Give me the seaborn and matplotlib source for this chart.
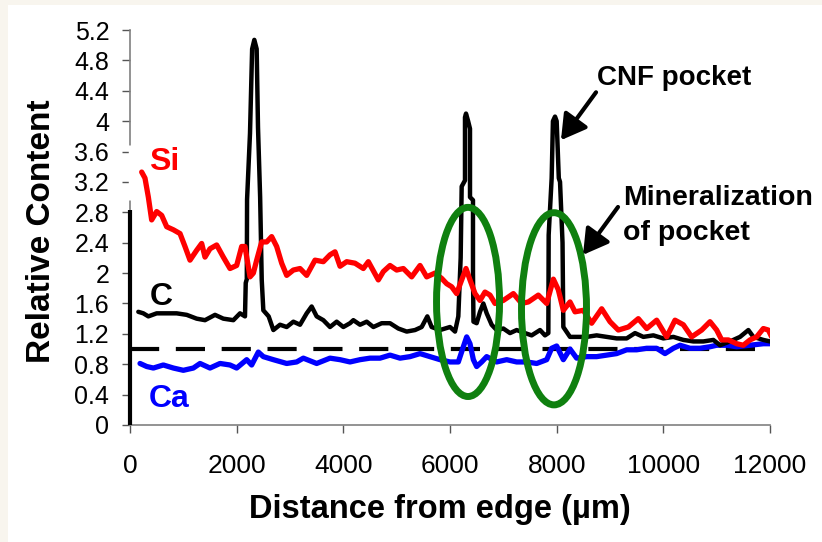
import numpy as np
import pandas as pd
import matplotlib
matplotlib.use("Agg")
import matplotlib.pyplot as plt
from matplotlib.patches import Ellipse, Rectangle
import seaborn as sns

# ---------------- data ----------------
si_x = [219, 281, 344, 406, 500, 594, 688, 813, 938, 1031, 1125, 1250, 1344, 1406, 1500,
        1625, 1750, 1875, 2000, 2094, 2156, 2250, 2313, 2375, 2469, 2563, 2656, 2750, 2844,
        2938, 3063, 3188, 3313, 3469, 3625, 3750, 3844, 3938, 4063, 4219, 4375, 4469, 4656,
        4750, 4875, 5000, 5125, 5281, 5438, 5563, 5719, 5844, 5938, 6031, 6125, 6219, 6300,
        6375, 6469, 6563, 6656, 6750, 6844, 7000, 7188, 7344, 7469, 7656, 7813, 7938, 8031,
        8125, 8250, 8344, 8500, 8656, 8844, 9000, 9156, 9344, 9531, 9688, 9875, 10063, 10219,
        10375, 10531, 10719, 10875, 11000, 11094, 11219, 11375, 11500, 11625, 11750, 11875,
        11969, 12031]
si_y = [3.33, 3.25, 3.00, 2.70, 2.81, 2.76, 2.61, 2.57, 2.52, 2.35, 2.17, 2.30, 2.39, 2.21, 2.32,
        2.37, 2.21, 2.06, 2.10, 2.35, 2.35, 1.95, 2.00, 2.17, 2.41, 2.41, 2.48, 2.35, 2.13,
        1.97, 2.04, 2.06, 1.97, 2.17, 2.15, 2.24, 2.28, 2.09, 2.15, 2.13, 2.06, 2.15, 1.91,
        2.02, 2.10, 2.04, 2.06, 1.95, 2.10, 1.95, 2.00, 1.93, 1.86, 1.82, 1.73, 1.91, 2.06,
        1.91, 1.73, 1.64, 1.75, 1.71, 1.60, 1.64, 1.73, 1.60, 1.62, 1.71, 1.60, 1.92, 1.78,
        1.51, 1.62, 1.49, 1.51, 1.34, 1.53, 1.36, 1.25, 1.29, 1.40, 1.27, 1.38, 1.16, 1.38,
        1.32, 1.16, 1.25, 1.36, 1.25, 1.12, 1.12, 1.07, 1.05, 1.12, 1.16, 1.27,
        1.25, 1.16]

c_x = [156, 250, 344, 500, 688, 875, 1063, 1250, 1406, 1594, 1750, 1938, 2063, 2156, 2170,
       2190, 2195, 2250, 2290, 2331, 2375, 2400, 2440, 2470, 2500, 2600, 2688, 2813, 2938,
       3063, 3188, 3313, 3406, 3500, 3625, 3750, 3875, 4000, 4125, 4188, 4313, 4438, 4563,
       4719, 4875, 5031, 5188, 5344, 5469, 5575, 5656, 5813, 6000, 6094, 6156, 6200, 6219,
       6281, 6281, 6300, 6340, 6375, 6375, 6431, 6431, 6440, 6500, 6563, 6625, 6688, 6781,
       6875, 7000, 7125, 7250, 7406, 7531, 7688, 7781, 7844, 7850, 7906, 7930, 7969, 8000,
       8040, 8063, 8110, 8125, 8250, 8375, 8563, 8750, 8938, 9125, 9313, 9469, 9625, 9813,
       10000, 10188, 10375, 10563, 10750, 10938, 11063, 11250, 11438, 11594, 11688, 11875,
       12000]
c_y = [1.49, 1.47, 1.43, 1.47, 1.47, 1.47, 1.45, 1.40, 1.38, 1.45, 1.40, 1.38, 1.47, 1.43, 1.87,
       1.92, 2.97, 3.84, 4.95, 5.07, 4.95, 3.92, 3.00, 1.91, 1.51, 1.43, 1.25, 1.32, 1.29,
       1.36, 1.32, 1.47, 1.56, 1.43, 1.38, 1.29, 1.36, 1.29, 1.34, 1.38, 1.32, 1.36, 1.29,
       1.34, 1.34, 1.27, 1.23, 1.25, 1.29, 1.43, 1.29, 1.25, 1.29, 1.23, 1.43, 2.20, 3.14,
       3.22, 4.05, 4.10, 4.00, 3.90, 3.00, 2.96, 2.00, 1.36, 1.34, 1.49, 1.60, 1.47, 1.32,
       1.25, 1.27, 1.21, 1.25, 1.21, 1.18, 1.25, 1.18, 1.21, 2.50, 3.25, 4.00, 4.06, 4.00,
       3.25, 3.20, 2.40, 1.29, 1.16, 1.16, 1.16, 1.18, 1.16, 1.14, 1.14, 1.21, 1.16, 1.18,
       1.14, 1.16, 1.12, 1.10, 1.10, 1.12, 1.05, 1.10, 1.16, 1.25, 1.16, 1.12,
       1.10]

ca_x = [188, 313, 438, 625, 813, 1000, 1188, 1313, 1500, 1688, 1875, 2000, 2188, 2281, 2406,
        2500, 2688, 2938, 3125, 3250, 3500, 3750, 3938, 4125, 4313, 4500, 4688, 4875, 5063,
        5250, 5438, 5625, 5813, 6000, 6156, 6250, 6313, 6375, 6438, 6500, 6594, 6688, 6875,
        7063, 7250, 7438, 7625, 7813, 7906, 8000, 8125, 8250, 8375, 8563, 8750, 8938, 9125,
        9313, 9500, 9688, 9875, 10031, 10188, 10313, 10500, 10688, 10875, 11000, 11188, 11375,
        11625, 11875, 12000]
ca_y = [0.81, 0.77, 0.75, 0.79, 0.75, 0.72, 0.75, 0.81, 0.75, 0.81, 0.79, 0.75, 0.86, 0.79, 0.96,
        0.90, 0.86, 0.81, 0.83, 0.88, 0.81, 0.88, 0.86, 0.83, 0.86, 0.88, 0.88, 0.92, 0.88,
        0.90, 0.94, 0.90, 0.86, 0.83, 0.83, 1.03, 1.16, 1.07, 0.86, 0.77, 0.83, 0.90, 0.83,
        0.86, 0.83, 0.83, 0.81, 0.86, 1.01, 1.04, 0.86, 1.00, 0.88, 0.90, 0.90, 0.92, 0.94,
        0.99, 0.99, 1.01, 1.01, 0.94, 1.01, 1.05, 1.01, 1.01, 1.03, 1.05, 1.05, 1.03,
        1.05, 1.07, 1.07]

reference_level = 1.0
left_bar_y = [0.0, 2.83]          # thick black segment on the y axis
spine_gap_y = [2.96, 3.68]        # white break in the y axis

x_ticks = [0, 2000, 4000, 6000, 8000, 10000, 12000]
x_tick_labels = ["0", "2000", "4000", "6000", "8000", "10000", "12000"]
y_ticks = [0, 0.4, 0.8, 1.2, 1.6, 2.0, 2.4, 2.8, 3.2, 3.6, 4.0, 4.4, 4.8, 5.2]
y_tick_labels = ["0", "0.4", "0.8", "1.2", "1.6", "2", "2.4", "2.8", "3.2", "3.6", "4", "4.4", "4.8", "5.2"]

# ellipses (center x, center y, width, height)
ellipse_cx = [6338, 7950]
ellipse_cy = [1.62, 1.53]
ellipse_w = [1181, 1219]
ellipse_h = [2.49, 2.53]

# annotation arrows (tail -> tip)
cnf_tail, cnf_tip = (8738, 4.38), (8081, 3.75)
min_tail, min_tip = (9150, 2.87), (8494, 2.24)

# ---------------- style ----------------
sns.set_style("white")
plt.rcParams["font.family"] = ["Liberation Sans", "DejaVu Sans"]
plt.rcParams["text.color"] = "black"
plt.rcParams["axes.labelcolor"] = "black"
plt.rcParams["xtick.color"] = "black"
plt.rcParams["ytick.color"] = "black"

fig = plt.figure(figsize=(8.22, 5.42), dpi=100, facecolor="#f8f5ee")
fig.patches.append(Rectangle((8 / 822, 0), 1, 537 / 542, transform=fig.transFigure,
                             facecolor="white", edgecolor="none", zorder=-10))
ax = fig.add_axes([130 / 822, 117 / 542, 640 / 822, 395 / 542])
ax.set_facecolor("white")

# reference dashed line
ax.axhline(reference_level, color="black", lw=3, ls=(0, (7, 4)), zorder=1)

df_ca = pd.DataFrame({"x": ca_x, "y": ca_y})
df_c = pd.DataFrame({"x": c_x, "y": c_y})
df_si = pd.DataFrame({"x": si_x, "y": si_y})

sns.lineplot(data=df_ca, x="x", y="y", ax=ax, color="#0000ff", lw=3.8,
             estimator=None, sort=False, zorder=2)
sns.lineplot(data=df_c, x="x", y="y", ax=ax, color="black", lw=3.2,
             estimator=None, sort=False, zorder=3)
sns.lineplot(data=df_si, x="x", y="y", ax=ax, color="#ff0000", lw=3.8,
             estimator=None, sort=False, zorder=4)

# axis decorations
ax.plot([0, 0], left_bar_y, color="black", lw=3, clip_on=False, zorder=5,
        solid_capstyle="butt")
ax.plot([0, 0], spine_gap_y, color="white", lw=2.5, clip_on=False, zorder=5,
        solid_capstyle="butt")

for cx, cy, w, h in zip(ellipse_cx, ellipse_cy, ellipse_w, ellipse_h):
    ax.add_patch(Ellipse((cx, cy), w, h, fill=False, edgecolor="#0f800f", lw=5, zorder=6))

arrow_kw = dict(arrowstyle="-|>,head_length=0.6,head_width=0.35", lw=3, color="black",
                shrinkA=0, shrinkB=0, mutation_scale=25)
ax.annotate("", xy=cnf_tip, xytext=cnf_tail, arrowprops=arrow_kw, zorder=7)
ax.annotate("", xy=min_tip, xytext=min_tail, arrowprops=arrow_kw, zorder=7)

# text labels
px_x = lambda px: (px - 130) * 12000 / 640
px_y = lambda py: (425 - py) / 76.0
ax.text(px_x(149), px_y(170), "Si", color="#ff0000", fontsize=23, fontweight="bold",
        ha="left", va="baseline")
ax.text(px_x(150), px_y(305), "C", color="black", fontsize=23, fontweight="bold",
        ha="left", va="baseline")
ax.text(px_x(149), px_y(407), "Ca", color="#0000ff", fontsize=23, fontweight="bold",
        ha="left", va="baseline")
ax.text(px_x(597), px_y(85), "CNF pocket", color="black", fontsize=20, fontweight="bold",
        ha="left", va="baseline", clip_on=False)
ax.text(px_x(623), px_y(205), "Mineralization", color="black", fontsize=20.5,
        fontweight="bold", ha="left", va="baseline", clip_on=False)
ax.text(px_x(623), px_y(240), "of pocket", color="black", fontsize=20.5,
        fontweight="bold", ha="left", va="baseline", clip_on=False)

ax.set_xlim(0, 12000)
ax.set_ylim(0, 5.2)
ax.set_xticks(x_ticks)
ax.set_xticklabels(x_tick_labels, fontsize=19)
ax.set_yticks(y_ticks)
ax.set_yticklabels(y_tick_labels, fontsize=18)
ax.tick_params(axis="x", direction="out", length=6, width=1, color="#555555", pad=15,
               bottom=True, labelcolor="black")
ax.tick_params(axis="y", direction="out", length=6, width=1, color="#555555", pad=9,
               left=True, labelcolor="black")

for s in ["top", "right"]:
    ax.spines[s].set_visible(False)
for s in ["left", "bottom"]:
    ax.spines[s].set_color("#808080")
    ax.spines[s].set_linewidth(1.2)

ax.set_xlabel("Distance from edge (µm)", fontsize=23.5, fontweight="bold", color="black")
ax.set_ylabel("Relative Content", fontsize=24, fontweight="bold", color="black")
ax.xaxis.set_label_coords(0.484, -0.175)
ax.yaxis.set_label_coords(-0.114, 0.49)

fig.savefig("out.png", dpi=100, facecolor=fig.get_facecolor())
